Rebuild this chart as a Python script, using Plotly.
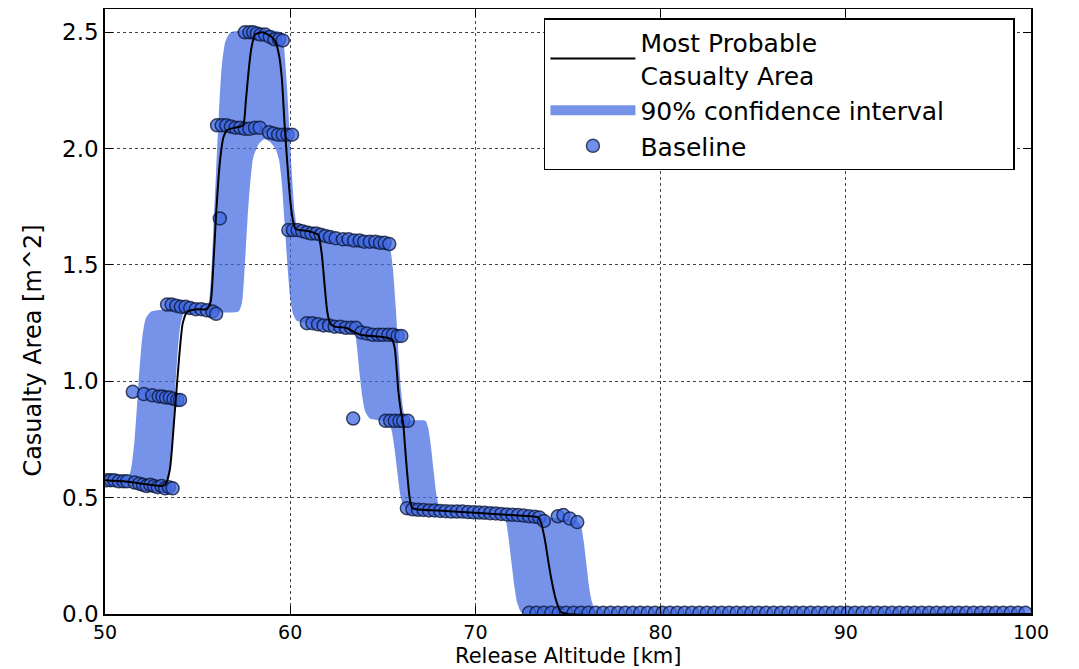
import plotly.graph_objects as go

# ---------------- data ----------------
# Most probable casualty area (black line)
line_x = [50, 51, 52, 53, 53.25, 53.5, 53.75, 54.0, 54.2, 54.45, 55.0, 55.5, 55.7, 55.85,
          56.0, 56.2, 56.4, 56.6, 57.0, 57.45, 57.6, 57.75, 57.9, 58.1, 58.5, 59.0, 59.2,
          59.4, 59.55, 59.7, 59.85, 60.0, 60.15, 60.3, 61.0, 61.5, 61.7, 61.85, 62.0, 62.15,
          62.4, 63.0, 63.8, 65.0, 65.5, 65.65, 65.75, 65.85, 66.0, 66.1, 66.2, 66.3, 66.45,
          66.6, 68.0, 70.0, 72.0, 73.4, 73.55, 73.75, 73.95, 74.15, 74.35, 74.6, 75.0, 100]
line_y = [0.575, 0.57, 0.56, 0.55, 0.555, 0.62, 0.85, 1.1, 1.25, 1.3, 1.31, 1.31, 1.34, 1.5,
          1.72, 1.94, 2.05, 2.08, 2.09, 2.1, 2.2, 2.33, 2.43, 2.49, 2.5, 2.48, 2.46,
          2.4, 2.3, 2.1, 1.93, 1.78, 1.69, 1.655, 1.645, 1.63, 1.55, 1.42, 1.3, 1.25,
          1.235, 1.23, 1.2, 1.19, 1.18, 1.14, 1.05, 0.95, 0.86, 0.82, 0.72, 0.62, 0.5,
          0.455, 0.445, 0.435, 0.425, 0.415, 0.39, 0.32, 0.22, 0.13, 0.06, 0.01, 0.0, 0.0]

# 90% confidence interval: upper bound
upper_x = [50, 51.2, 51.4, 51.6, 51.8, 52.0, 52.2, 52.5, 53.5, 55.0, 55.55, 55.7, 55.85, 56.0,
           56.15, 56.3, 56.5, 56.8, 59.5, 59.65, 59.8, 59.95, 60.1, 60.25, 60.4, 61.0, 62.0,
           63.0, 64.0, 65.2, 65.4, 65.55, 65.7, 65.85, 66.0, 66.15, 66.35, 67.3, 67.45, 67.6,
           67.75, 67.9, 68.05, 68.3, 70.0, 73.0, 75.5, 75.7, 75.85, 76.0, 76.15, 76.3, 76.5,
           76.8, 100]
upper_y = [0.58, 0.58, 0.62, 0.75, 0.98, 1.18, 1.27, 1.3, 1.31, 1.32, 1.33, 1.42, 1.65, 1.9,
           2.15, 2.35, 2.46, 2.5, 2.5, 2.45, 2.3, 2.1, 1.88, 1.72, 1.66, 1.65, 1.64,
           1.62, 1.61, 1.6, 1.57, 1.48, 1.32, 1.12, 0.95, 0.86, 0.835, 0.83, 0.8, 0.72,
           0.61, 0.51, 0.46, 0.445, 0.44, 0.42, 0.40, 0.38, 0.31, 0.21, 0.11, 0.05, 0.01,
           0.0, 0.0]

# 90% confidence interval: lower bound
lower_x = [50, 51, 52, 53.0, 53.25, 53.45, 53.6, 53.75, 53.9, 54.05, 54.25, 54.6, 57.2, 57.4,
           57.55, 57.7, 57.85, 58.0, 58.3, 58.6, 58.9, 59.2, 59.4, 59.55, 59.7, 59.85, 60.0,
           60.15, 60.35, 61.0, 62.0, 63.0, 63.45, 63.6, 63.75, 63.9, 64.05, 64.3, 65.0, 65.35,
           65.5, 65.65, 65.8, 65.95, 66.1, 66.3, 68.0, 70.0, 71.5, 71.65, 71.8, 71.95, 72.1,
           72.25, 72.45, 72.7, 100]
lower_y = [0.575, 0.57, 0.56, 0.55, 0.55, 0.58, 0.7, 0.9, 1.1, 1.23, 1.29, 1.3, 1.3, 1.34,
           1.5, 1.7, 1.86, 1.96, 2.02, 2.04, 2.03, 2.0, 1.95, 1.85, 1.68, 1.5, 1.36,
           1.29, 1.26, 1.25, 1.24, 1.23, 1.22, 1.15, 1.03, 0.93, 0.87, 0.84, 0.83, 0.82,
           0.78, 0.7, 0.6, 0.51, 0.465, 0.455, 0.445, 0.435, 0.43, 0.4, 0.32, 0.22, 0.12,
           0.05, 0.01, 0.0, 0.0]

# Baseline points, grouped by step level
b1_x = [50.1, 50.3, 50.5, 50.75, 51.0, 51.2, 51.5]
b1_y = [0.575, 0.575, 0.575, 0.57, 0.57, 0.57, 0.955]
b2_x = [51.6, 51.85, 52.05, 52.25, 52.45, 52.65, 52.85, 53.05, 53.25, 53.45, 53.65]
b2_y = [0.565, 0.56, 0.555, 0.55, 0.555, 0.55, 0.545, 0.55, 0.54, 0.545, 0.54]
b3_x = [52.1, 52.55, 52.9, 53.1, 53.3, 53.5, 53.7, 53.9, 54.05]
b3_y = [0.945, 0.94, 0.935, 0.935, 0.93, 0.93, 0.925, 0.92, 0.92]
b4_x = [53.35, 53.6, 53.85, 54.1, 54.35, 54.6, 54.9, 55.2, 55.5, 55.8, 56.0, 56.2]
b4_y = [1.33, 1.33, 1.325, 1.32, 1.32, 1.315, 1.31, 1.31, 1.305, 1.30, 1.29, 1.70]
b5_x = [56.05, 56.3, 56.55, 56.8, 57.05, 57.3, 57.55, 57.8, 58.1, 58.35]
b5_y = [2.10, 2.10, 2.10, 2.095, 2.09, 2.09, 2.085, 2.085, 2.09, 2.09]
b6_x = [57.55, 57.8, 58.0, 58.2, 58.4, 58.65, 58.9, 59.15, 59.4, 59.6]
b6_y = [2.50, 2.50, 2.50, 2.495, 2.49, 2.49, 2.48, 2.47, 2.47, 2.465]
b7_x = [58.85, 59.1, 59.35, 59.6, 59.85, 60.1]
b7_y = [2.07, 2.065, 2.06, 2.06, 2.06, 2.06]
b8_x = [59.9, 60.15, 60.4, 60.65, 60.9, 61.15, 61.4, 61.65, 61.9, 62.15, 62.45]
b8_y = [1.65, 1.65, 1.65, 1.645, 1.64, 1.635, 1.635, 1.63, 1.625, 1.62, 1.615]
b9_x = [62.85, 63.15, 63.45, 63.75, 64.0, 64.3, 64.6, 64.85, 65.1, 65.35]
b9_y = [1.61, 1.61, 1.605, 1.605, 1.60, 1.60, 1.60, 1.595, 1.595, 1.59]
b10_x = [60.9, 61.2, 61.5, 61.8, 62.1, 62.4, 62.7, 63.0, 63.3, 63.55]
b10_y = [1.25, 1.25, 1.245, 1.24, 1.24, 1.235, 1.235, 1.23, 1.23, 1.23]
b11_x = [63.85, 64.15, 64.45, 64.75, 65.0, 65.3, 65.55, 65.8, 66.0, 63.4]
b11_y = [1.21, 1.205, 1.20, 1.20, 1.20, 1.20, 1.20, 1.195, 1.195, 0.84]
b12_x = [65.15, 65.4, 65.65, 65.9, 66.1, 66.35]
b12_y = [0.83, 0.83, 0.83, 0.83, 0.83, 0.83]
b13_x = [66.3, 66.6, 66.9, 67.2, 67.5, 67.8, 68.1, 68.4, 68.7, 69.0, 69.3, 69.6, 69.9,
         70.2, 70.5, 70.8, 71.1, 71.4, 71.7, 72.0, 72.3, 72.6, 72.9, 73.2, 73.45]
b13_y = [0.455, 0.45, 0.448, 0.447, 0.445, 0.445, 0.443, 0.442, 0.44, 0.44, 0.44, 0.438, 0.437,
         0.436, 0.435, 0.433, 0.432, 0.43, 0.428, 0.427, 0.425, 0.423, 0.42, 0.418, 0.415]
b14_x = [73.7, 74.45, 74.75, 75.1, 75.5]
b14_y = [0.40, 0.42, 0.425, 0.41, 0.395]
b15_x = [72.9, 73.3, 73.7, 74.1, 74.5, 74.9, 75.3, 75.7, 76.1, 76.5, 76.9, 77.3, 77.7,
         78.1, 78.5, 78.9, 79.3, 79.7, 80.1, 80.5, 80.9, 81.3, 81.7, 82.1, 82.5, 82.9,
         83.3, 83.7, 84.1, 84.5, 84.9, 85.3, 85.7, 86.1, 86.5, 86.9, 87.3, 87.7, 88.1,
         88.5, 88.9, 89.3, 89.7, 90.1, 90.5, 90.9, 91.3, 91.7, 92.1, 92.5, 92.9, 93.3,
         93.7, 94.1, 94.5, 94.9, 95.3, 95.7, 96.1, 96.5, 96.9, 97.3, 97.7, 98.1, 98.5,
         98.9, 99.3, 99.7]
b15_y = [0.005] * len(b15_x)

base_x = (b1_x + b2_x + b3_x + b4_x + b5_x + b6_x + b7_x + b8_x + b9_x + b10_x + b11_x
          + b12_x + b13_x + b14_x + b15_x)
base_y = (b1_y + b2_y + b3_y + b4_y + b5_y + b6_y + b7_y + b8_y + b9_y + b10_y + b11_y
          + b12_y + b13_y + b14_y + b15_y)

x_ticks = [50, 60, 70, 80, 90, 100]
y_ticks = [0.0, 0.5, 1.0, 1.5, 2.0, 2.5]

FONT = "DejaVu Sans, Bitstream Vera Sans, sans-serif"
BAND = "rgba(65,105,225,0.72)"
NBSP = "\u00a0"

fig = go.Figure()
fig.add_trace(go.Scatter(x=lower_x, y=lower_y, mode="lines",
                         line=dict(width=0, shape="spline", smoothing=0.6),
                         showlegend=False, hoverinfo="skip"))
fig.add_trace(go.Scatter(x=upper_x, y=upper_y, mode="lines",
                         line=dict(width=0, shape="spline", smoothing=0.6),
                         fill="tonexty", fillcolor=BAND, showlegend=False, hoverinfo="skip"))
fig.add_trace(go.Scatter(x=base_x, y=base_y, mode="markers", name="Baseline",
                         marker=dict(size=13, color="rgba(65,105,225,0.75)",
                                     line=dict(color="rgba(10,20,50,0.75)", width=1.5)),
                         legendrank=3))
fig.add_trace(go.Scatter(x=line_x, y=line_y, mode="lines", name="Most Probable<br>Casualty Area",
                         line=dict(color="black", width=2, shape="spline", smoothing=0.6),
                         legendrank=1))
# legend entry for the band (drawn as a thick swatch)
fig.add_trace(go.Scatter(x=[None], y=[None], mode="lines",
                         name="90% confidence interval" + NBSP * 8,
                         line=dict(color=BAND, width=18), legendrank=2))

axis_common = dict(showline=True, linecolor="black", linewidth=1.5, mirror="ticks",
                   ticks="inside", ticklen=8, tickwidth=1.2, tickcolor="black",
                   showgrid=True, gridcolor="#444", griddash="dot", gridwidth=1,
                   zeroline=False, automargin=False)

fig.update_xaxes(range=[50, 100], tickvals=x_ticks, ticktext=[str(v) for v in x_ticks],
                 tickfont=dict(family=FONT, size=19, color="black"),
                 **axis_common)
fig.update_yaxes(range=[0, 2.6], tickvals=y_ticks, ticktext=[f"{v:.1f}" for v in y_ticks],
                 tickfont=dict(family=FONT, size=23, color="black"),
                 **axis_common)

fig.add_annotation(text="Casualty Area [m^2]", xref="paper", yref="paper",
                   x=-0.078, y=0.435, xanchor="center", yanchor="middle",
                   textangle=-90, showarrow=False,
                   font=dict(family=FONT, size=24, color="black"))
fig.add_annotation(text="Release Altitude [km]", xref="paper", yref="paper",
                   x=0.5, y=-0.0905, xanchor="center", yanchor="bottom",
                   showarrow=False, borderpad=0,
                   font=dict(family=FONT, size=21, color="black"))

# The page body adds an 8px offset; figure is sized so the visible window matches.
fig.update_layout(width=1071, height=661,
                  margin=dict(l=97, r=48, t=1, b=55),
                  paper_bgcolor="white", plot_bgcolor="white",
                  font=dict(family=FONT, color="black"),
                  legend=dict(x=0.474, y=0.985, xanchor="left", yanchor="top",
                              traceorder="normal",
                              bgcolor="white", bordercolor="black", borderwidth=1.5,
                              font=dict(family=FONT, size=25, color="black"),
                              itemwidth=85, tracegroupgap=0))

fig.write_html("out.html")
